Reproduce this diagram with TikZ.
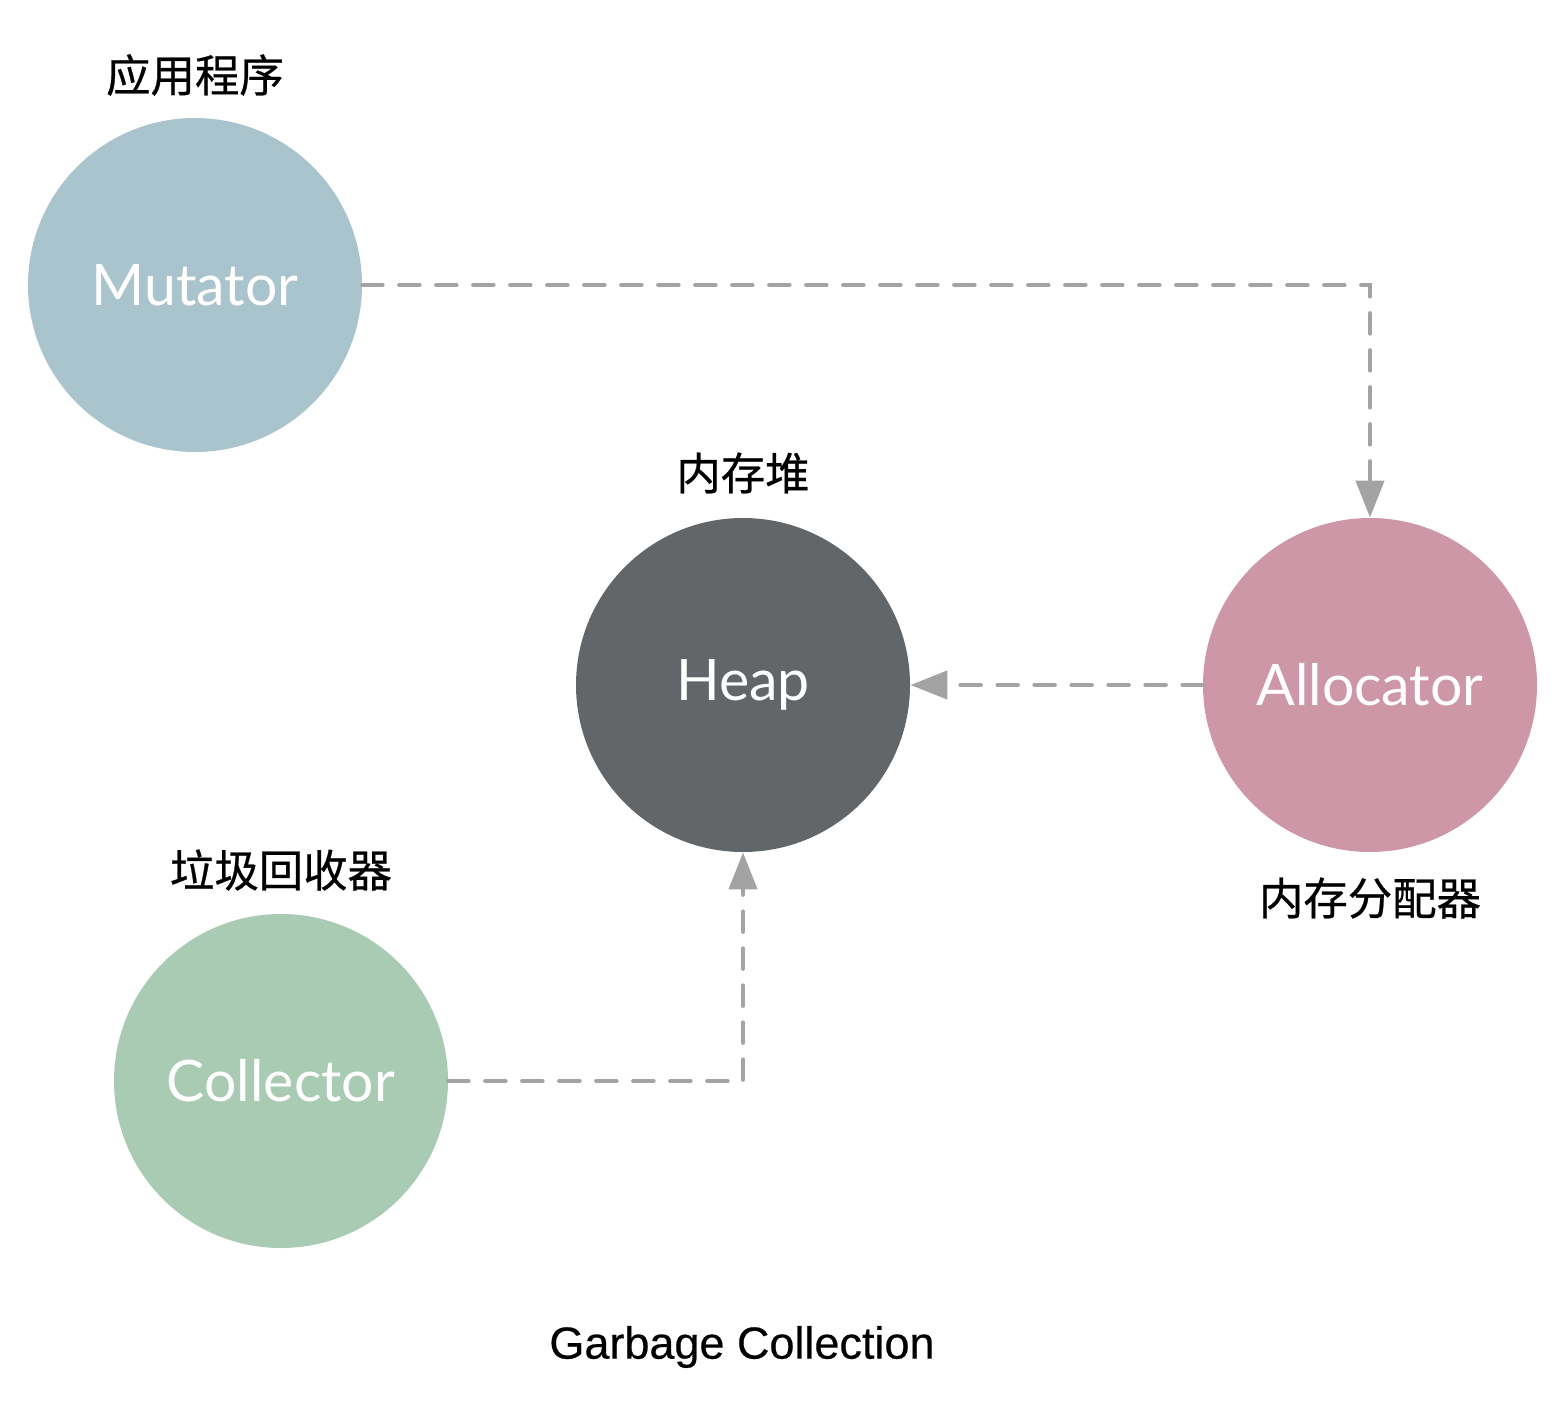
\documentclass[tikz,border=0pt]{standalone}
\usepackage{fontspec}
\setmainfont{Lato}
\newfontfamily\cjk{Noto Sans CJK SC}[FakeBold=0.6]
\newfontfamily\capfont{Liberation Sans}[FakeBold=0.4]
\usetikzlibrary{arrows.meta}
\definecolor{mutc}{HTML}{A9C4CC}
\definecolor{heapc}{HTML}{636669}
\definecolor{allocc}{HTML}{CE97A8}
\definecolor{collc}{HTML}{A9CBB4}
\definecolor{linec}{HTML}{A3A3A3}
\begin{document}
\begin{tikzpicture}[x=0.5pt,y=-0.5pt,
  ball/.style={circle, minimum size=167pt, inner sep=0pt, text=white, font=\fontsize{28.6}{34}\selectfont},
  cn/.style={font=\cjk\fontsize{22.2}{26}\selectfont, text=black},
  link/.style={draw=linec, line width=2.3pt, line cap=round, dash pattern=on 10pt off 8.5pt,
    -{Triangle[width=14pt,length=18.5pt]}, fill=none}
]
\useasboundingbox (0,0) rectangle (1566,1412);
\node[ball, fill=mutc] (mut) at (195,285) {Mutator};
\node[ball, fill=heapc] (heap) at (743,685) {Heap};
\node[ball, fill=allocc] (alloc) at (1370,685) {Allocator};
\node[ball, fill=collc] (coll) at (281,1081) {Collector};
\node[cn] (lmut) at (195,75) {应用程序};
\node[cn] (lheap) at (743,473) {内存堆};
\node[cn] (lcoll) at (281,870) {垃圾回收器};
\node[cn] (lalloc) at (1370,898) {内存分配器};
\node[font=\capfont\fontsize{22.5}{26}\selectfont] (title) at (742,1347) {Garbage Collection};
\draw[link] (mut.east) -| (alloc.north);
\draw[link] (alloc.west) -- (heap.east);
\draw[link] (coll.east) -| (heap.south);
\end{tikzpicture}
\end{document}
